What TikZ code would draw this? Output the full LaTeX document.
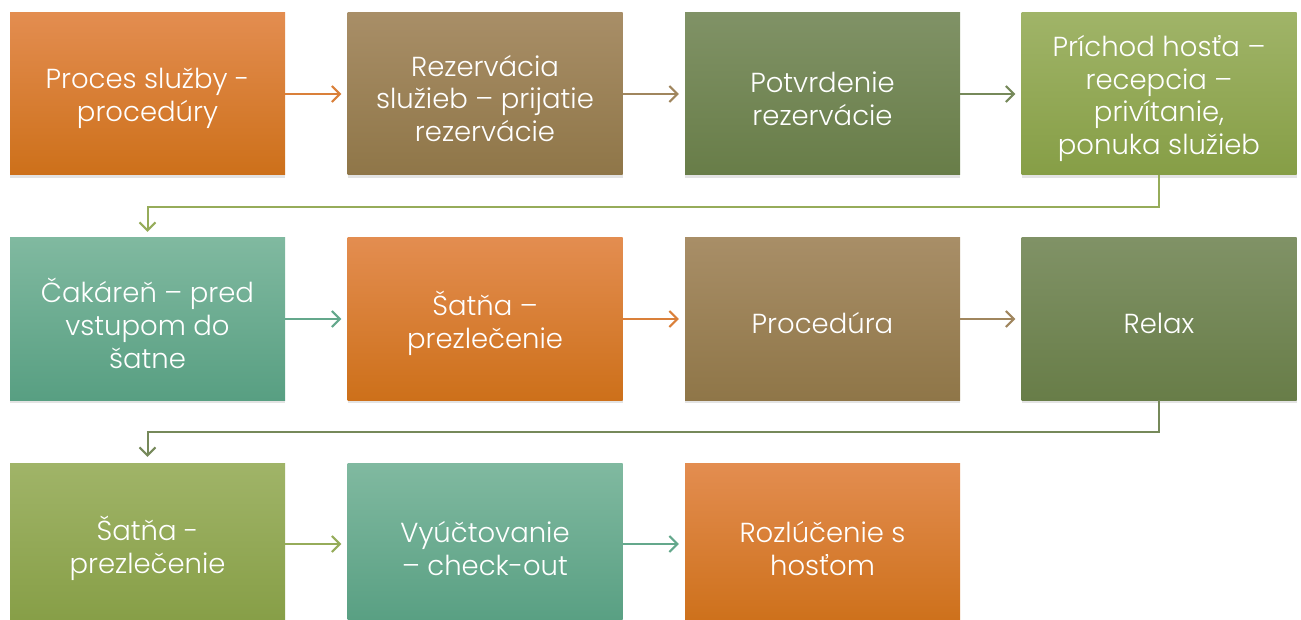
\documentclass[tikz,border=0pt]{standalone}
\usepackage{fontspec}
\setmainfont{Poppins Light}
\usetikzlibrary{arrows.meta,shadows,calc}
\definecolor{orT}{RGB}{227,141,80}
\definecolor{orB}{RGB}{205,112,26}
\definecolor{brT}{RGB}{168,142,103}
\definecolor{brB}{RGB}{143,118,72}
\definecolor{dgT}{RGB}{128,146,102}
\definecolor{dgB}{RGB}{104,125,72}
\definecolor{lgT}{RGB}{160,180,104}
\definecolor{lgB}{RGB}{134,158,70}
\definecolor{tlT}{RGB}{128,185,160}
\definecolor{tlB}{RGB}{88,159,130}
\definecolor{orL}{RGB}{218,128,58}
\definecolor{brL}{RGB}{160,134,94}
\definecolor{dgL}{RGB}{118,137,90}
\definecolor{lgL}{RGB}{150,172,90}
\definecolor{tlL}{RGB}{100,168,140}
\tikzset{
  stepbox/.style={rectangle, minimum width=275pt, minimum height=162pt,
    inner sep=0pt,
    drop shadow={opacity=0.22, shadow xshift=0pt, shadow yshift=-3pt}},
  lbl/.style={text=white, font=\fontsize{27.5}{32.8}\selectfont, align=center,
    inner sep=0pt, yshift=-4.5pt},
  orbox/.style={stepbox, top color=orT, bottom color=orB},
  brbox/.style={stepbox, top color=brT, bottom color=brB},
  dgbox/.style={stepbox, top color=dgT, bottom color=dgB},
  lgbox/.style={stepbox, top color=lgT, bottom color=lgB},
  tlbox/.style={stepbox, top color=tlT, bottom color=tlB},
  conn/.style={line width=2pt, -{Straight Barb[length=8pt,width=16pt,line width=2pt]}, shorten >=6pt}
}
\begin{document}
\begin{tikzpicture}[x=1pt,y=-1pt]
\useasboundingbox (0,0) rectangle (1301,620);
% row 1
\node[orbox, label={[lbl]center:{Proces služby -\\procedúry}}] (a) at (147.5,94) {};
\node[brbox, label={[lbl]center:{Rezervácia\\služieb – prijatie\\rezervácie}}] (b) at (485,94) {};
\node[dgbox, label={[lbl]center:{Potvrdenie\\rezervácie}}] (c) at (822.5,94) {};
\node[lgbox, label={[lbl]center:{Príchod hosťa –\\recepcia –\\privítanie,\\ponuka služieb}}] (d) at (1159,94) {};
% row 2
\node[tlbox, label={[lbl]center:{Čakáreň – pred\\vstupom do\\šatne}}] (e) at (147.5,319) {};
\node[orbox, label={[lbl]center:{Šatňa –\\prezlečenie}}] (f) at (485,319) {};
\node[brbox, label={[lbl]center:{Procedúra}}] (g) at (822.5,319) {};
\node[dgbox, label={[lbl]center:{Relax}}] (h) at (1159,319) {};
% row 3
\node[lgbox, label={[lbl]center:{Šatňa -\\prezlečenie}}] (i) at (147.5,544) {};
\node[tlbox, label={[lbl]center:{Vyúčtovanie\\– check-out}}] (j) at (485,544) {};
\node[orbox, label={[lbl]center:{Rozlúčenie s\\hosťom}}] (k) at (822.5,544) {};
% connectors
\draw[conn, orL] (a.east) -- (b.west);
\draw[conn, brL] (b.east) -- (c.west);
\draw[conn, dgL] (c.east) -- (d.west);
\coordinate (k1) at (147.5,207);
\draw[conn, lgL] (d.south) |- (k1) -- (e.north);
\draw[conn, tlL] (e.east) -- (f.west);
\draw[conn, orL] (f.east) -- (g.west);
\draw[conn, brL] (g.east) -- (h.west);
\coordinate (k2) at (147.5,432);
\draw[conn, dgL] (h.south) |- (k2) -- (i.north);
\draw[conn, lgL] (i.east) -- (j.west);
\draw[conn, tlL] (j.east) -- (k.west);
\end{tikzpicture}
\end{document}
